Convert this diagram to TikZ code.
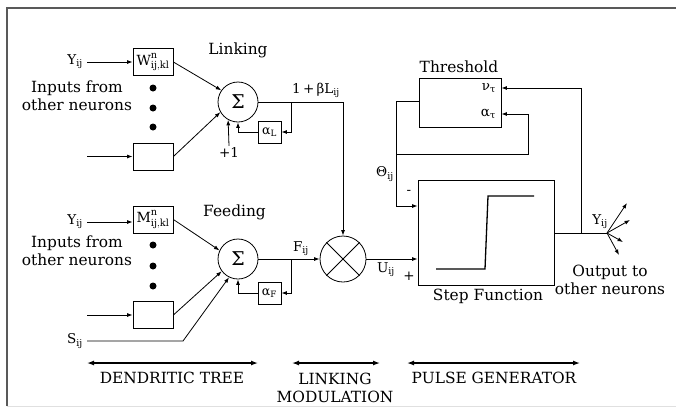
\documentclass[tikz,border=0pt]{standalone}
\usepackage{fontspec}
\setmainfont{DejaVu Serif}
\usetikzlibrary{arrows.meta}
\newcommand{\sbx}[1]{\textsubscript{#1}}
\begin{document}
\begin{tikzpicture}[x=1pt,y=-1pt,
  font=\fontsize{15.4}{18}\selectfont,
  wire/.style={line width=0.8pt},
  arr/.style={wire,-{Latex[length=5.5pt,width=4pt]}},
  dbl/.style={line width=1.3pt,{Latex[length=7pt,width=5pt]}-{Latex[length=7pt,width=5pt]}},
  wbox/.style={draw,line width=0.8pt,minimum width=40pt,minimum height=27pt,inner sep=0pt,font=\fontsize{14}{15}\selectfont},
  abox/.style={draw,line width=0.8pt,minimum width=23pt,minimum height=22pt,inner sep=0pt,font=\fontsize{12.5}{14}\selectfont},
  sumc/.style={draw,circle,line width=0.8pt,minimum size=40pt,inner sep=0pt,font=\fontsize{19}{20}\selectfont},
  lbl/.style={inner sep=0pt,align=center},
  sym/.style={inner sep=0pt,font=\fontsize{13.5}{15}\selectfont},
]
\useasboundingbox (0,0) rectangle (676,407);
% frame
\draw[line width=1.5pt, black!65] (7,406) -- (7,8) -- (676,8);
\draw[line width=0.8pt, black!12] (7,406) -- (676,406);

% ---------- Linking branch ----------
\node[sym,anchor=east] (y1) at (83,62) {Y\sbx{ij}};
\node[wbox] (W) at (153,62) {$\mathrm{W}^{\mathrm{n}}_{\mathrm{ij,kl}}$};
\node[wbox] (W2) at (153,156.5) {};
\coordinate (in1) at (87,156.5);
\node[lbl] (inp1) at (77,96) {Inputs from\\other neurons};
\fill (153,88) circle (3.5) (153,108) circle (3.5) (153,127) circle (3.5);
\node[lbl] (link) at (238,50) {Linking};
\node[sumc] (S1) at (238,102) {Σ};
\node[abox] (aL) at (269.5,132) {α\sbx{L}};
\node[sym] (p1) at (229,152) {+1};
\draw[arr] ([xshift=4pt]y1.east) -- (W.west);
\draw[arr] (in1) -- (W2.west);
\draw[arr] (W.east) -- (S1.145);
\draw[arr] (W2.east) -- (S1.210);
\draw[arr] (p1.north) ++(0,-1) -- (S1.241);
\coordinate (jL) at (291,102);
\draw[arr] (jL) |- (aL.east);
\draw[arr] (aL.west) -| (S1.south);
\node[sym] (bl) at (316,90) {1\,+\,βL\sbx{ij}};
\coordinate (cL) at (343,102);
\draw[wire] (S1.east) -- (cL);

% ---------- Feeding branch ----------
\node[sym,anchor=east] (y2) at (83,222) {Y\sbx{ij}};
\node[wbox] (M) at (153,219.5) {$\mathrm{M}^{\mathrm{n}}_{\mathrm{ij,kl}}$};
\node[wbox] (M2) at (153,315) {};
\coordinate (in2) at (87,315);
\node[lbl] (inp2) at (77,251) {Inputs from\\other neurons};
\fill (153,245) circle (3.5) (153,266) circle (3.5) (153,286) circle (3.5);
\node[lbl] (feed) at (234.5,212) {Feeding};
\node[sumc] (S2) at (238,259) {Σ};
\node[abox] (aF) at (269.5,293) {α\sbx{F}};
\node[sym,anchor=east] (sij) at (83,341) {S\sbx{ij}};
\coordinate (sk) at (183,341);
\draw[arr] ([xshift=4pt]y2.east) -- (W.west |- y2.east);
\draw[arr] (in2) -- (M2.west);
\draw[arr] (M.east) -- (S2.155);
\draw[arr] (M2.east) -- (S2.217);
\draw[arr] ([xshift=4pt]sij.east) -- (sk) -- (S2.244);
\coordinate (jF) at (291,259);
\draw[arr] (jF) |- (aF.east);
\draw[arr] (aF.west) -| (S2.south);
\node[sym] (fij) at (301,249) {F\sbx{ij}};

% ---------- Modulation ----------
\node[draw,circle,line width=0.8pt,minimum size=46pt,inner sep=0pt] (X) at (343,259) {};
\draw[wire] (X.45) -- (X.225) (X.135) -- (X.315);
\draw[arr] (S2.east) -- (X.west);
\draw[arr] (cL) -- (X.north);

% ---------- Pulse generator ----------
\node[draw,line width=0.8pt,minimum width=136pt,minimum height=105pt,inner sep=0pt] (SF) at (486,232.5) {};
\draw[line width=1.3pt] (436,269) -- (485,269) -- (488,196) -- (534,196);
\node[lbl] (sfl) at (488,296) {Step Function};
\node[draw,line width=0.8pt,minimum width=82pt,minimum height=49pt,inner sep=0pt] (TH) at (460,102.5) {};
\node[lbl] (thl) at (459,67) {Threshold};
\node[sym,anchor=east] (nu) at (496,88) {ν\sbx{τ}};
\node[sym,anchor=east] (al) at (496,114) {α\sbx{τ}};
\draw[arr] (X.east) -- (SF.west |- X.east);
\node[sym] (uij) at (386,270) {U\sbx{ij}};
\node[sym] (plus) at (409,276) {+};
\node[sym] (minus) at (409,192) {-};
\node[sym] (th) at (385,174) {Θ\sbx{ij}};
\coordinate (tw) at (396,101);
\coordinate (tj) at (396,154);
\coordinate (ar) at (528,154);
\draw[wire] (TH.west |- tw) -- (tw) -- (tj);
\draw[arr] (tj) -- (396,206) -- (SF.west |- 0,206);
\draw[arr] (tj) -- (ar) |- (TH.east |- al);
\coordinate (fan) at (607,233);
\coordinate (oj) at (581,233);
\draw[wire] (SF.east |- fan) -- (fan);
\draw[arr] (oj) |- (TH.east |- nu);
\node[sym] (yo) at (600,222) {Y\sbx{ij}};
\draw[arr] (fan) -- (627,203);
\draw[arr] (fan) -- (630,220);
\draw[arr] (fan) -- (623,242);
\draw[arr] (fan) -- (619,255);
\node[lbl] (outl) at (610,280) {Output to\\other neurons};

% ---------- bottom scale ----------
\coordinate (d1) at (87,363); \coordinate (d2) at (258,363);
\coordinate (l1) at (292,363); \coordinate (l2) at (380,363);
\coordinate (g1) at (407,363); \coordinate (g2) at (580,363);
\draw[dbl] (d1) -- (d2);
\draw[dbl] (l1) -- (l2);
\draw[dbl] (g1) -- (g2);
\node[lbl] (dt) at (172,378) {DENDRITIC TREE};
\node[lbl] (lm) at (335,388) {LINKING\\MODULATION};
\node[lbl] (pg) at (494,378) {PULSE GENERATOR};
\end{tikzpicture}
\end{document}
